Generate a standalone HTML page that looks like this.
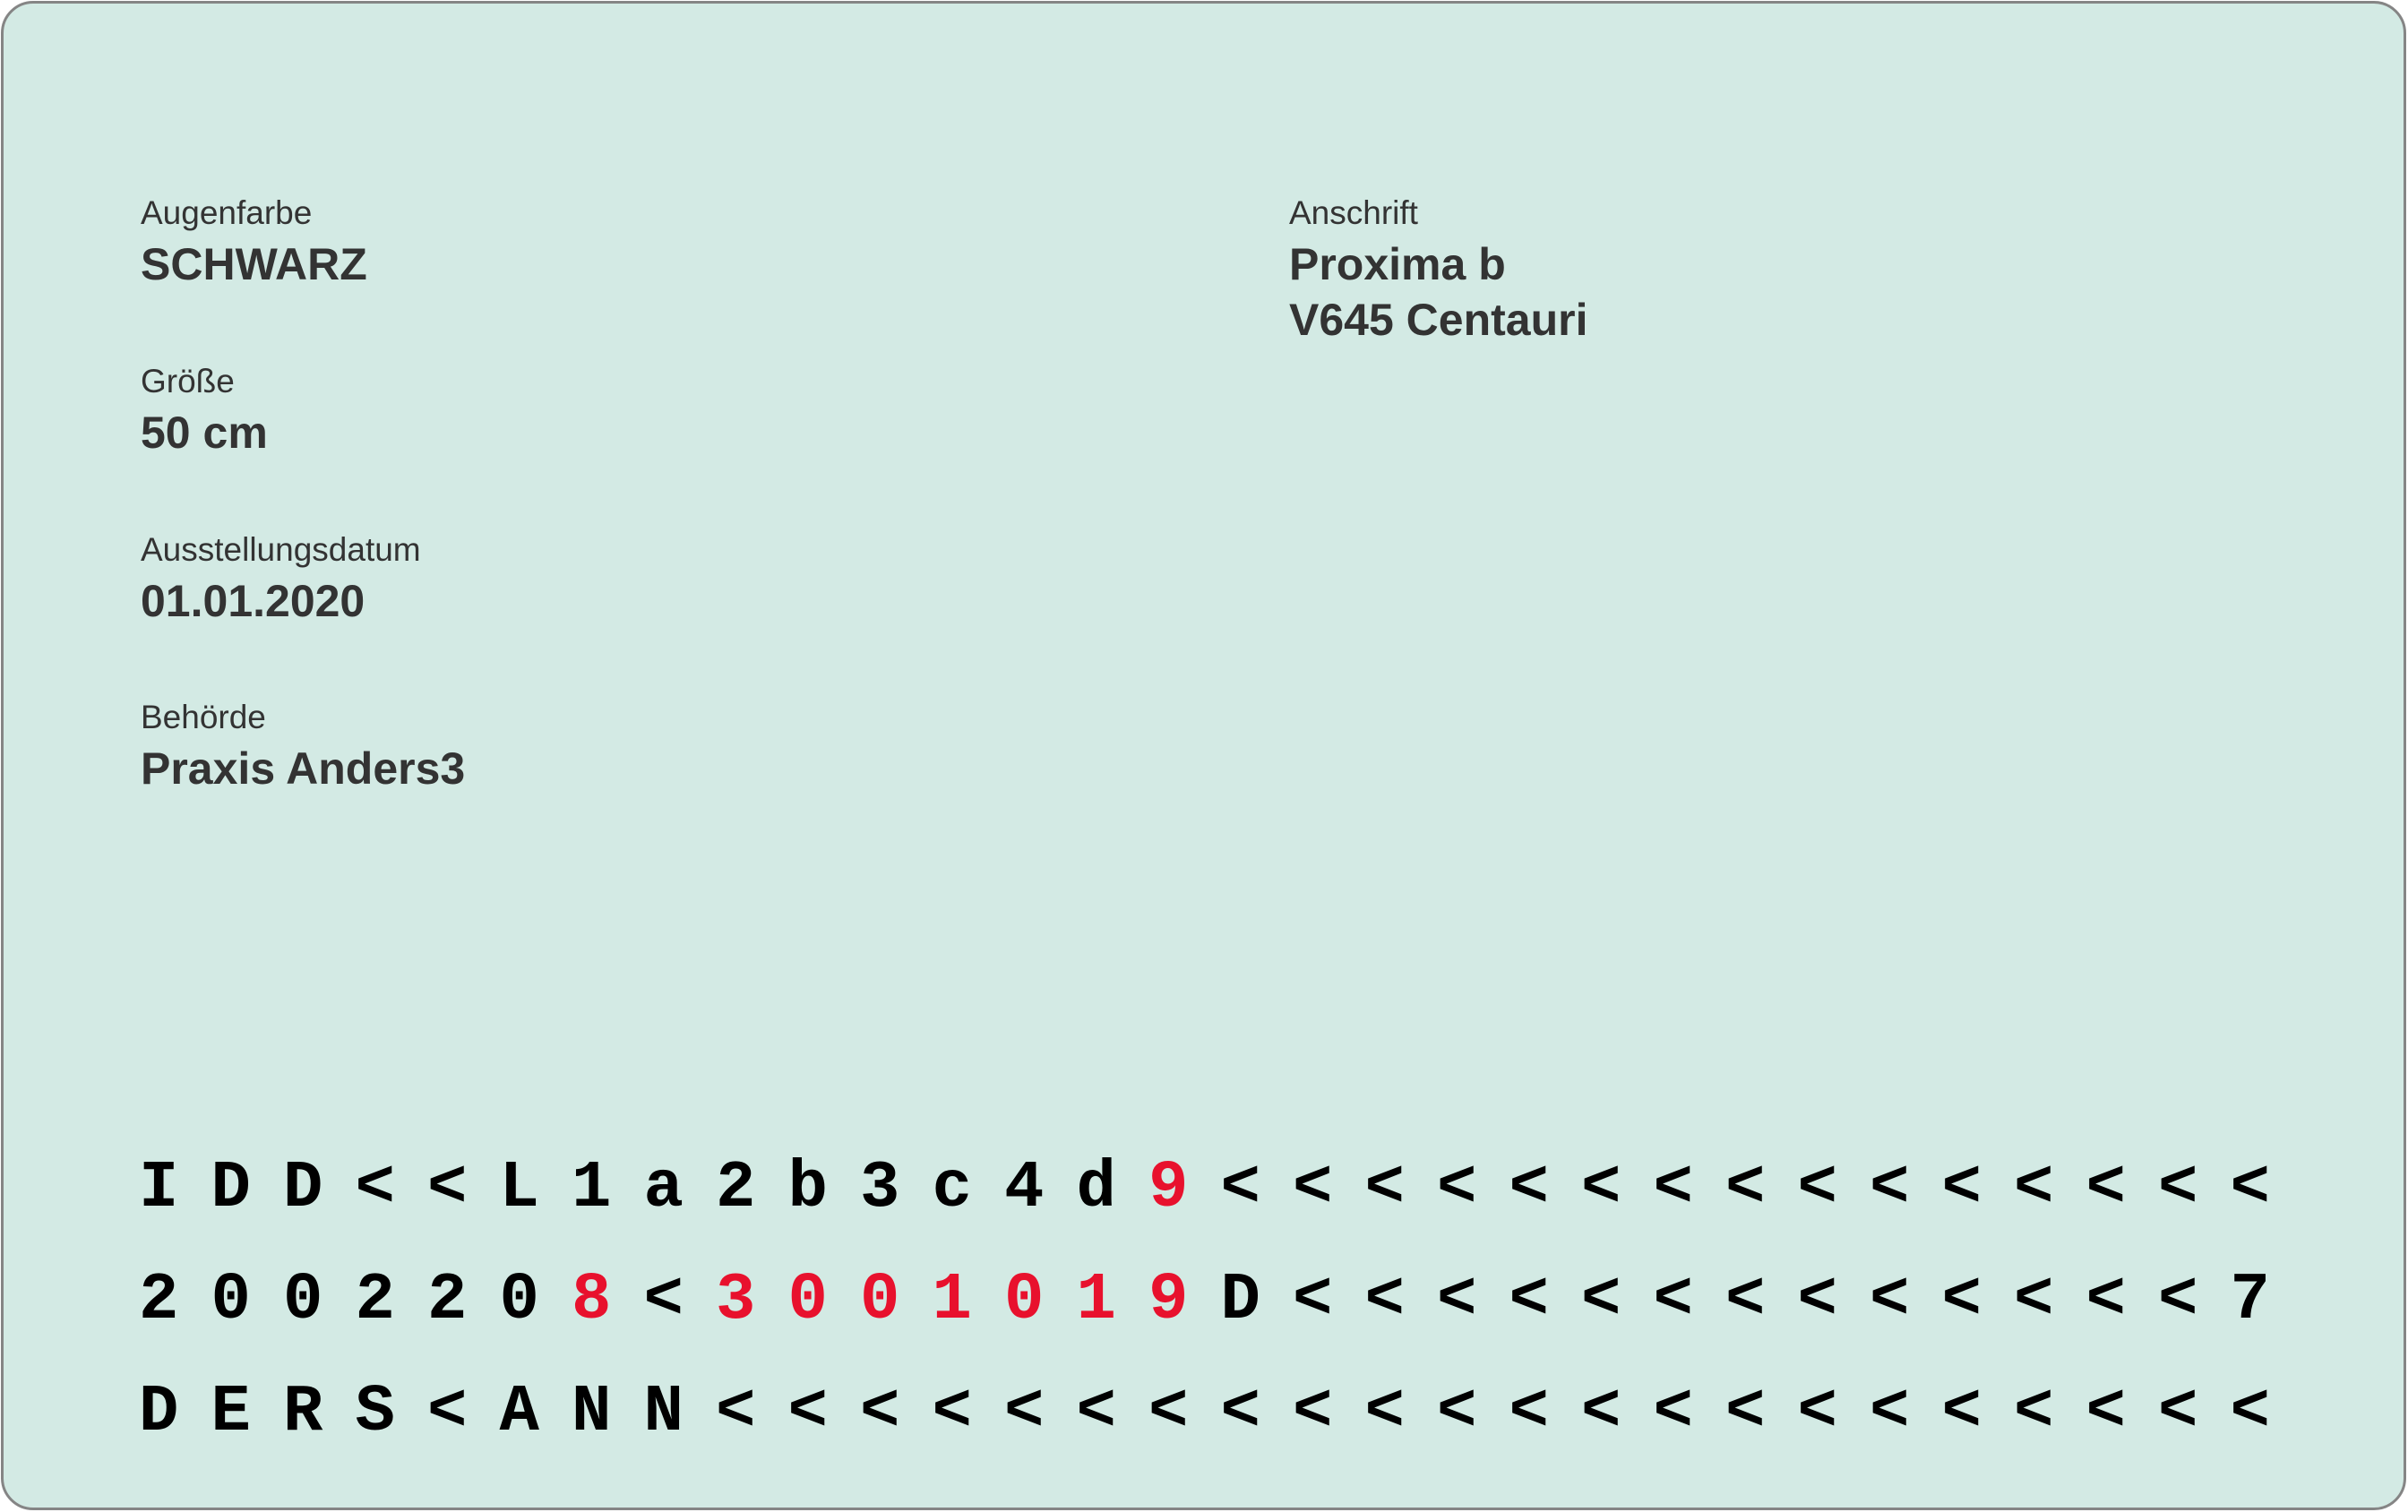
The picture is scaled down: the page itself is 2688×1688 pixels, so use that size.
<!DOCTYPE html>
<html><head><meta charset="utf-8"><style>
html,body{margin:0;padding:0;background:#fff}
#card{position:absolute;left:1px;top:1px;width:2679px;height:1679px;border:3.5px solid #858585;border-radius:36px;background:#d3eae4;overflow:hidden}
.t{position:absolute;font-family:"Liberation Sans",sans-serif;color:#333;white-space:nowrap;line-height:1}
.lab{font-size:37px}
.val{font-size:50px;font-weight:bold}
.mrz{position:absolute;left:133px;font-family:"Liberation Mono","Courier New",monospace;font-weight:bold;font-size:74px;color:#000;white-space:nowrap;line-height:1}
.mrz span{display:inline-block;width:80.5px;text-align:center}
.r{color:#e8112d}
</style></head><body>
<div id="card">
<div class="t lab" style="left:153px;top:215px">Augenfarbe</div>
<div class="t val" style="left:153px;top:266px">SCHWARZ</div>
<div class="t lab" style="left:153px;top:403px">Größe</div>
<div class="t val" style="left:153px;top:454px">50 cm</div>
<div class="t lab" style="left:153px;top:591px">Ausstellungsdatum</div>
<div class="t val" style="left:153px;top:642px">01.01.2020</div>
<div class="t lab" style="left:153px;top:778px">Behörde</div>
<div class="t val" style="left:153px;top:829px">Praxis Anders3</div>
<div class="t lab" style="left:1435px;top:215px">Anschrift</div>
<div class="t val" style="left:1435px;top:266px">Proxima b</div>
<div class="t val" style="left:1435px;top:328px">V645 Centauri</div>
<div class="mrz" style="top:1286px"><span>I</span><span>D</span><span>D</span><span>&lt;</span><span>&lt;</span><span>L</span><span>1</span><span>a</span><span>2</span><span>b</span><span>3</span><span>c</span><span>4</span><span>d</span><span class="r">9</span><span>&lt;</span><span>&lt;</span><span>&lt;</span><span>&lt;</span><span>&lt;</span><span>&lt;</span><span>&lt;</span><span>&lt;</span><span>&lt;</span><span>&lt;</span><span>&lt;</span><span>&lt;</span><span>&lt;</span><span>&lt;</span><span>&lt;</span></div>
<div class="mrz" style="top:1411px"><span>2</span><span>0</span><span>0</span><span>2</span><span>2</span><span>0</span><span class="r">8</span><span>&lt;</span><span class="r">3</span><span class="r">0</span><span class="r">0</span><span class="r">1</span><span class="r">0</span><span class="r">1</span><span class="r">9</span><span>D</span><span>&lt;</span><span>&lt;</span><span>&lt;</span><span>&lt;</span><span>&lt;</span><span>&lt;</span><span>&lt;</span><span>&lt;</span><span>&lt;</span><span>&lt;</span><span>&lt;</span><span>&lt;</span><span>&lt;</span><span>7</span></div>
<div class="mrz" style="top:1536px"><span>D</span><span>E</span><span>R</span><span>S</span><span>&lt;</span><span>A</span><span>N</span><span>N</span><span>&lt;</span><span>&lt;</span><span>&lt;</span><span>&lt;</span><span>&lt;</span><span>&lt;</span><span>&lt;</span><span>&lt;</span><span>&lt;</span><span>&lt;</span><span>&lt;</span><span>&lt;</span><span>&lt;</span><span>&lt;</span><span>&lt;</span><span>&lt;</span><span>&lt;</span><span>&lt;</span><span>&lt;</span><span>&lt;</span><span>&lt;</span><span>&lt;</span></div>
</div>
</body></html>
